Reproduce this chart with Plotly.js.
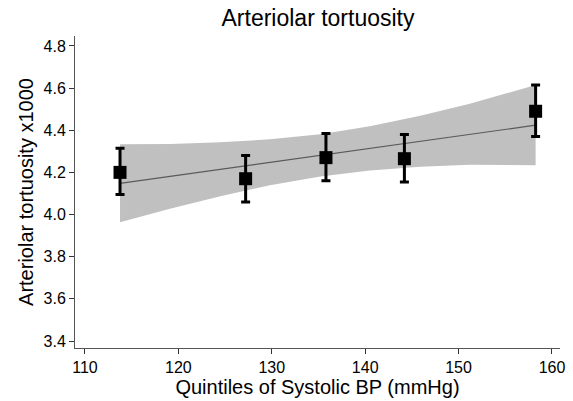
<!DOCTYPE html>
<html>
<head>
<meta charset="utf-8">
<script src="https://cdn.plot.ly/plotly-3.0.1.min.js"></script>
<style>html,body{margin:0;padding:0;background:#fff;}#chart{width:573px;height:401px;}</style>
</head>
<body>
<div id="chart"></div>
<script>
// Quintile points (mean SBP per quintile) and tortuosity x1000 with 95% CI
const quintileSBP = [113.75, 127.2, 135.8, 144.2, 158.25];
const tortuosity = [4.20, 4.17, 4.27, 4.265, 4.49];
const ciUpper = [4.315, 4.28, 4.385, 4.38, 4.615];
const ciLower = [4.095, 4.06, 4.16, 4.155, 4.37];

// Fitted line endpoints
const fitX = [113.75, 158.25];
const fitY = [4.148, 4.424];

// Confidence band of the fit, read at several SBP positions
const bandX = [113.75, 119.1, 124.5, 129.8, 135.2, 140.5, 145.9, 151.2, 158.25];
const bandUpper = [4.333, 4.335, 4.343, 4.357, 4.381, 4.419, 4.469, 4.526, 4.614];
const bandLower = [3.963, 4.027, 4.087, 4.139, 4.181, 4.209, 4.227, 4.236, 4.234];

const xTicks = [110, 120, 130, 140, 150, 160];
const yTicks = [3.4, 3.6, 3.8, 4.0, 4.2, 4.4, 4.6, 4.8];

const font = "Liberation Sans, Arial, sans-serif";

const traces = [
  {x: bandX, y: bandLower, mode: 'lines', line: {width: 0, color: 'rgba(0,0,0,0)'}, hoverinfo: 'skip', showlegend: false},
  {x: bandX, y: bandUpper, mode: 'lines', fill: 'tonexty', fillcolor: '#c0c0c0', line: {width: 0, color: 'rgba(0,0,0,0)'}, hoverinfo: 'skip', showlegend: false},
  {x: fitX, y: fitY, mode: 'lines', line: {color: '#5a5a5a', width: 1.2}, showlegend: false},
  {x: quintileSBP, y: tortuosity, mode: 'markers', type: 'scatter',
   marker: {symbol: 'square', size: 13, color: '#000000'},
   error_y: {type: 'data', symmetric: false,
     array: tortuosity.map((v, i) => ciUpper[i] - v),
     arrayminus: tortuosity.map((v, i) => v - ciLower[i]),
     color: '#000000', thickness: 3, width: 4.5},
   showlegend: false}
];

const layout = {
  width: 573, height: 401,
  margin: {l: 75, r: 13, t: 36, b: 53},
  paper_bgcolor: '#ffffff', plot_bgcolor: '#ffffff',
  font: {family: font, color: '#000000', size: 16},
  title: {text: 'Arteriolar tortuosity', font: {family: font, size: 23, color: '#000000'}, x: 0.555, xanchor: 'center', y: 0.955, yanchor: 'middle'},
  xaxis: {
    range: [108.93, 160.86], tickvals: xTicks, ticktext: xTicks.map(String),
    showgrid: false, zeroline: false, showline: true, linecolor: '#555555', linewidth: 1,
    ticks: 'outside', ticklen: 5, tickcolor: '#333333', tickwidth: 1,
    tickfont: {family: font, size: 16, color: '#000000'},
    title: {text: 'Quintiles of Systolic BP (mmHg)', font: {family: font, size: 20, color: '#000000'}, standoff: 0}
  },
  yaxis: {
    range: [3.367, 4.847], tickvals: yTicks, ticktext: yTicks.map(v => v.toFixed(1)),
    showgrid: false, zeroline: false, showline: true, linecolor: '#555555', linewidth: 1,
    ticks: 'outside', ticklen: 5, tickcolor: '#333333', tickwidth: 1,
    tickfont: {family: font, size: 16, color: '#000000'},
    title: {text: 'Arteriolar tortuosity x1000', font: {family: font, size: 20, color: '#000000'}, standoff: 4}
  }
};

Plotly.newPlot('chart', traces, layout, {displayModeBar: false, staticPlot: true});
</script>
</body>
</html>
